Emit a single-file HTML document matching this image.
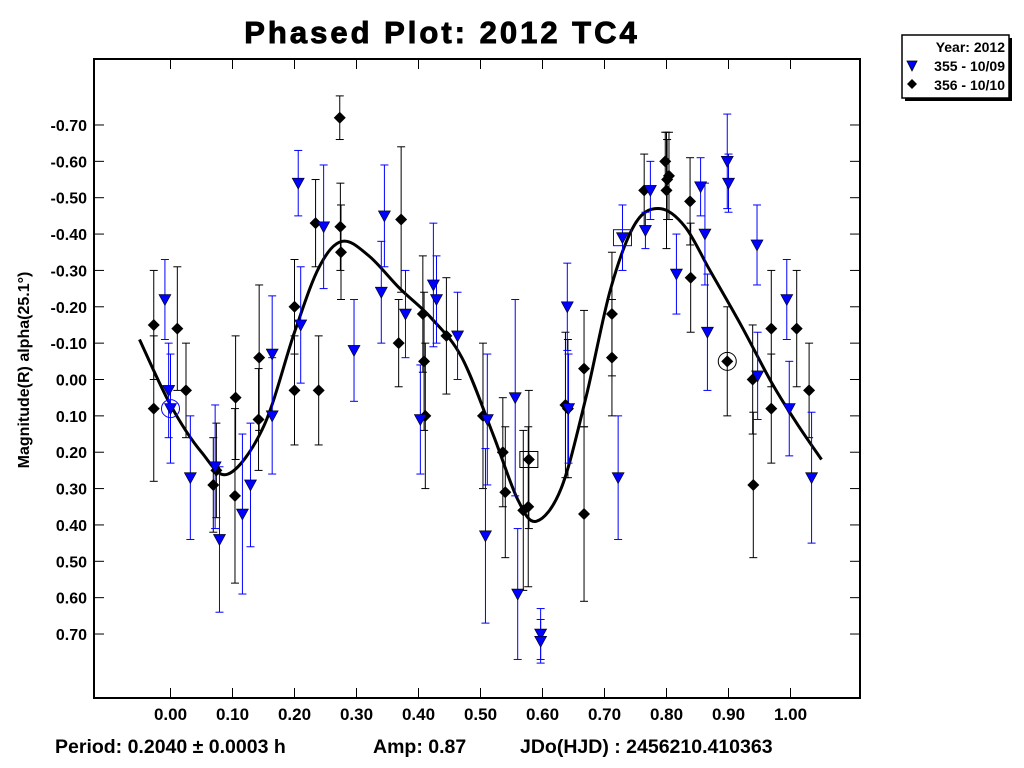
<!DOCTYPE html>
<html><head><meta charset="utf-8"><style>
body{margin:0;background:#fff;width:1024px;height:768px;overflow:hidden}
svg{display:block}
text{font-family:"Liberation Sans",Arial,sans-serif;font-weight:bold}
</style></head><body>
<svg id="chart" width="1024" height="768">
<text x="442" y="43" text-anchor="middle" font-size="31" letter-spacing="3" stroke="#000" stroke-width="0.9">Phased Plot: 2012 TC4</text>
<rect x="94" y="59" width="766" height="639" fill="none" stroke="#000" stroke-width="2"/>
<g id="axes"></g>
<g id="curve"></g>
<g id="points"></g>
<text transform="translate(29,370) rotate(-90)" text-anchor="middle" font-size="16">Magnitude(R) alpha(25.1°)</text>
<text x="55" y="753" font-size="19.5">Period: 0.2040 ± 0.0003 h</text>
<text x="373" y="753" font-size="19.5">Amp: 0.87</text>
<text x="520" y="753" font-size="19.5">JDo(HJD) : 2456210.410363</text>
<g>
<rect x="905" y="38" width="107" height="63" fill="#000"/>
<rect x="902" y="35" width="107" height="63" fill="#fff" stroke="#000" stroke-width="1.5"/>
<text x="1005" y="52" text-anchor="end" font-size="14">Year: 2012</text>
<polygon points="907,61 917,61 912,71" fill="#0000ff" stroke="#000" stroke-width="0.8"/>
<text x="1005" y="71" text-anchor="end" font-size="14">355 - 10/09</text>
<polygon points="912,79 917,84 912,89 907,84" fill="#000"/>
<text x="1005" y="90" text-anchor="end" font-size="14">356 - 10/10</text>
</g>
</svg>
<script>
const xTicks=[0,0.1,0.2,0.3,0.4,0.5,0.6,0.7,0.8,0.9,1.0];
const yTicks=[-0.7,-0.6,-0.5,-0.4,-0.3,-0.2,-0.1,0,0.1,0.2,0.3,0.4,0.5,0.6,0.7];
const s355Phase=[-0.009,-0.003,0.0,0.032,0.072,0.079,0.116,0.129,0.164,0.164,0.206,0.210,0.247,0.296,0.340,0.345,0.379,0.403,0.424,0.429,0.463,0.508,0.511,0.556,0.560,0.597,0.597,0.640,0.642,0.722,0.729,0.766,0.774,0.816,0.855,0.862,0.866,0.898,0.900,0.946,0.947,0.994,0.998,1.034];
const s355Mag=[-0.22,0.03,0.08,0.27,0.24,0.44,0.37,0.29,-0.07,0.10,-0.54,-0.15,-0.42,-0.08,-0.24,-0.45,-0.18,0.11,-0.26,-0.22,-0.12,0.43,0.11,0.05,0.59,0.70,0.72,-0.20,0.08,0.27,-0.39,-0.41,-0.52,-0.29,-0.53,-0.40,-0.13,-0.60,-0.54,-0.37,-0.01,-0.22,0.08,0.27];
const s355Err=[0.11,0.13,0.15,0.17,0.17,0.20,0.22,0.17,0.16,0.16,0.09,0.16,0.17,0.14,0.14,0.14,0.12,0.15,0.17,0.12,0.12,0.24,0.18,0.27,0.18,0.07,0.06,0.12,0.15,0.17,0.09,0.05,0.08,0.11,0.08,0.14,0.16,0.13,0.08,0.11,0.12,0.11,0.13,0.18];
const s356Phase=[-0.027,-0.027,0.011,0.025,0.069,0.074,0.105,0.104,0.143,0.142,0.200,0.200,0.234,0.239,0.273,0.274,0.275,0.368,0.372,0.407,0.409,0.411,0.445,0.504,0.536,0.540,0.569,0.577,0.578,0.637,0.641,0.667,0.667,0.712,0.712,0.764,0.798,0.800,0.801,0.804,0.838,0.839,0.898,0.939,0.940,0.969,0.969,1.010,1.030];
const s356Mag=[-0.15,0.08,-0.14,0.03,0.29,0.25,0.05,0.32,-0.06,0.11,-0.20,0.03,-0.43,0.03,-0.72,-0.42,-0.35,-0.10,-0.44,-0.18,-0.05,0.10,-0.12,0.10,0.20,0.31,0.36,0.35,0.22,0.07,0.08,-0.03,0.37,-0.18,-0.06,-0.52,-0.60,-0.52,-0.55,-0.56,-0.49,-0.28,-0.05,0.00,0.29,0.08,-0.14,-0.14,0.03];
const s356Err=[0.15,0.20,0.17,0.13,0.13,0.13,0.17,0.24,0.20,0.14,0.13,0.15,0.12,0.15,0.06,0.12,0.13,0.12,0.20,0.16,0.19,0.20,0.16,0.20,0.15,0.18,0.22,0.22,0.19,0.20,0.19,0.16,0.24,0.17,0.16,0.10,0.08,0.16,0.11,0.12,0.12,0.15,0.15,0.15,0.20,0.15,0.16,0.16,0.13];
const fitPhase=[-0.05,0.0,0.05,0.093,0.15,0.20,0.24,0.277,0.32,0.37,0.42,0.47,0.52,0.56,0.59,0.63,0.67,0.71,0.75,0.79,0.83,0.87,0.92,0.97,1.01,1.05];
const fitMag=[-0.11,0.07,0.20,0.26,0.13,-0.13,-0.31,-0.38,-0.34,-0.25,-0.17,-0.06,0.15,0.33,0.39,0.30,0.05,-0.25,-0.43,-0.47,-0.42,-0.30,-0.15,0.01,0.12,0.22];
const circled356=[42];const circled355=[2];const boxed355=[30];const boxed356=[28];
const X=p=>170.5+p*620;
const Y=m=>379.5+m*363.6;
const NS='http://www.w3.org/2000/svg';
function mk(tag,parent,attrs){const e=document.createElementNS(NS,tag);for(const k in attrs)e.setAttribute(k,attrs[k]);parent.appendChild(e);return e;}
const axes=document.getElementById('axes');
xTicks.forEach(t=>{const x=X(t);
 const a=mk('line',axes,{x1:x,x2:x,y1:698,y2:688,stroke:'#000','stroke-width':1});
 
 
 const b=mk('line',axes,{x1:x,x2:x,y1:59,y2:69,stroke:'#000','stroke-width':1});
 
 
 const l=mk('text',axes,{x:x,y:720,'text-anchor':'middle','font-size':17});
 l.textContent=t.toFixed(2);
 
 
});
yTicks.forEach(t=>{const y=Y(t);
 const a=mk('line',axes,{x1:94,x2:104,y1:y,y2:y,stroke:'#000','stroke-width':1});
 
 
 const b=mk('line',axes,{x1:850,x2:860,y1:y,y2:y,stroke:'#000','stroke-width':1});
 
 
 const l=mk('text',axes,{x:87,y:y+6,'text-anchor':'end','font-size':16});
 l.textContent=t.toFixed(2);
 
 
});
const pts=fitPhase.map((p,i)=>[X(p),Y(fitMag[i])]);
let d='M'+pts[0][0]+','+pts[0][1];
for(let i=0;i<pts.length-1;i++){const p0=pts[Math.max(0,i-1)],p1=pts[i],p2=pts[i+1],p3=pts[Math.min(pts.length-1,i+2)];
 d+=` C${p1[0]+(p2[0]-p0[0])/6},${p1[1]+(p2[1]-p0[1])/6} ${p2[0]-(p3[0]-p1[0])/6},${p2[1]-(p3[1]-p1[1])/6} ${p2[0]},${p2[1]}`;}
const cv=mk('path',document.getElementById('curve'),{d:d,fill:'none',stroke:'#000','stroke-width':3});


const pg=document.getElementById('points');
function errbar(x,m,e,col){const y1=Y(m-e),y2=Y(m+e);
 const g=mk('g',pg,{stroke:col,'stroke-width':1});
 
 
 mk('line',g,{x1:x,x2:x,y1:y1,y2:y2});mk('line',g,{x1:x-4,x2:x+4,y1:y1,y2:y1});mk('line',g,{x1:x-4,x2:x+4,y1:y2,y2:y2});}
s356Phase.forEach((p,i)=>{errbar(X(p),s356Mag[i],s356Err[i],'#000');});
s355Phase.forEach((p,i)=>{errbar(X(p),s355Mag[i],s355Err[i],'#0000ff');});
s356Phase.forEach((p,i)=>{const x=X(p),y=Y(s356Mag[i]);
 const d=mk('polygon',pg,{points:`${x},${y-6} ${x+6},${y} ${x},${y+6} ${x-6},${y}`,fill:'#000'});
 
 
 if(circled356.includes(i))mk('circle',pg,{cx:x,cy:y,r:9,fill:'none',stroke:'#000'});
 if(boxed356.includes(i))mk('rect',pg,{x:x-9,y:y-8,width:18,height:16,fill:'none',stroke:'#000'});
});
s355Phase.forEach((p,i)=>{const x=X(p),y=Y(s355Mag[i]);
 const d=mk('polygon',pg,{points:`${x-6},${y-5} ${x+6},${y-5} ${x},${y+6}`,fill:'#0000ff',stroke:'#000','stroke-width':0.6});
 
 
 if(circled355.includes(i))mk('circle',pg,{cx:x,cy:y,r:9,fill:'none',stroke:'#0000ff'});
 if(boxed355.includes(i))mk('rect',pg,{x:x-9,y:y-8,width:18,height:16,fill:'none',stroke:'#0000ff'});
});
</script>
</body></html>
